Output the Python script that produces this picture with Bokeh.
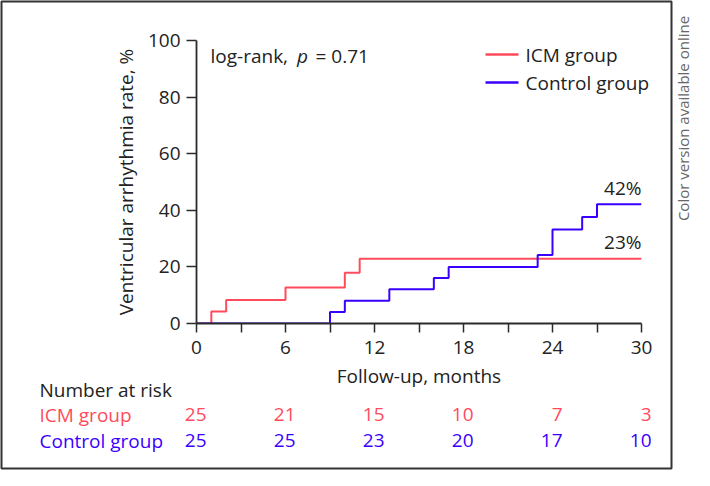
import numpy as np
from bokeh.plotting import figure
from bokeh.models import FixedTicker, Label
from bokeh.embed import file_html
from bokeh.resources import INLINE
from bokeh.core.properties import value

# ---------------- data ----------------
icm_months = [0, 1, 2, 6, 10, 11, 30]
icm_rate = [0, 4.2, 8.3, 12.7, 17.9, 22.9, 22.9]
ctrl_months = [0, 9, 10, 13, 16, 17, 23, 24, 26, 27, 30]
ctrl_rate = [0, 4.1, 8.0, 12.1, 16.1, 20.0, 24.2, 33.2, 37.6, 42.1, 42.1]
risk_months = [0, 6, 12, 18, 24, 30]
icm_at_risk = [25, 21, 15, 10, 7, 3]
ctrl_at_risk = [25, 25, 23, 20, 17, 10]
x_ticks = [0, 6, 12, 18, 24, 30]
x_minor_ticks = [3, 9, 15, 21, 27]
y_ticks = [0, 20, 40, 60, 80, 100]
icm_final_label = "23%"
ctrl_final_label = "42%"
group_names = ["ICM group", "Control group"]

RED = "#FF4B5C"
BLUE = "#3A00FF"
INK = "#222222"
FONT = "Open Sans"
FS = "19px"

# layout helpers (canvas pixel -> data coordinates)
W, H = 694, 470
X0, X1, Y0, Y1 = 196, 641, 323, 40
XS = (X1 - X0) / 30.0
YS = (Y0 - Y1) / 100.0
def dx(px):
    return (px - X0) / XS
def dy(py):
    return (Y0 - py) / YS

p = figure(width=W, height=H, x_range=(0, 30), y_range=(0, 100),
           output_backend="svg", toolbar_location=None,
           min_border_left=X0, min_border_right=W - X1,
           min_border_top=Y1, min_border_bottom=H - Y0)
p.outline_line_color = None
p.grid.visible = False
p.background_fill_color = "white"
p.border_fill_color = "white"

AX = "#2b2b2b"
for ax in (p.xaxis[0], p.yaxis[0]):
    ax.axis_line_color = AX
    ax.axis_line_width = 1.8
    ax.major_tick_line_color = AX
    ax.major_tick_line_width = 1.5
    ax.minor_tick_line_color = AX
    ax.minor_tick_line_width = 1.5
    ax.major_tick_in = 0
    ax.minor_tick_in = 0
    ax.major_label_text_font = FONT
    ax.major_label_text_font_size = FS
    ax.major_label_text_color = INK
    ax.axis_label_text_font = FONT
    ax.axis_label_text_font_size = FS
    ax.axis_label_text_font_style = "normal"
    ax.axis_label_text_color = INK

xa = p.xaxis[0]
xa.ticker = FixedTicker(ticks=x_ticks, minor_ticks=x_minor_ticks)
xa.major_tick_out = 9
xa.minor_tick_out = 9
xa.major_label_standoff = 8
xa.axis_label = "Follow-up, months"
xa.axis_label_standoff = 6

ya = p.yaxis[0]
ya.ticker = FixedTicker(ticks=y_ticks, minor_ticks=[])
ya.major_tick_out = 10
ya.major_label_standoff = 6
ya.axis_label = "Ventricular arrhythmia rate, %"
ya.axis_label_standoff = 6

# survival-type step curves
p.step(icm_months, icm_rate, mode="after", line_color=RED, line_width=2)
p.step(ctrl_months, ctrl_rate, mode="after", line_color=BLUE, line_width=2)

def txt(xs, ys, texts, colors=INK, size=FS, **kw):
    opts = dict(text_font=value(FONT), text_font_size=value(size),
                text_color=colors, text_baseline="middle", level="overlay")
    opts.update(kw)
    return p.text(x=xs, y=ys, text=texts, **opts)

# legend (drawn by hand so it may extend past the plotting frame)
leg_y = [dy(54), dy(82)]
p.segment(x0=[dx(485)] * 2, x1=[dx(518)] * 2, y0=leg_y, y1=leg_y,
          line_color=[RED, BLUE], line_width=2.5, level="overlay")
txt([dx(525)] * 2, leg_y, group_names)

# end-of-curve values
for yv, lab, off in ((ctrl_rate[-1], ctrl_final_label, 16),
                     (icm_rate[-1], icm_final_label, 17)):
    p.add_layout(Label(x=30, y=yv, text=lab, text_align="right",
                       text_baseline="middle", y_offset=off, text_font=FONT,
                       text_font_size=FS, text_color=INK))

# log-rank annotation
txt([dx(210)], [dy(55)], ["log-rank,"])
txt([dx(296.5)], [dy(55)], ["p"], text_font_style="italic")
txt([dx(315)], [dy(55)], ["= 0.71"])

# number-at-risk table
txt([dx(39)] * 3, [dy(389), dy(414), dy(440)],
    ["Number at risk", group_names[0], group_names[1]], colors=[INK, RED, BLUE])
txt(risk_months, [dy(414)] * len(risk_months), [str(c) for c in icm_at_risk],
    colors=RED, text_align="right", x_offset=10)
txt(risk_months, [dy(440)] * len(risk_months), [str(c) for c in ctrl_at_risk],
    colors=BLUE, text_align="right", x_offset=10)

# outer frame and side note
p.quad(left=[dx(1)], right=[dx(671)], top=[dy(1)], bottom=[dy(468)],
       fill_color=None, line_color="#333333", line_width=2, level="overlay")
txt([dx(682)], [dy(118)], ["Color version available online"],
    colors="#666666", size="15px", angle=np.pi / 2, text_align="center")

open("out.html", "w").write(file_html(p, INLINE))
